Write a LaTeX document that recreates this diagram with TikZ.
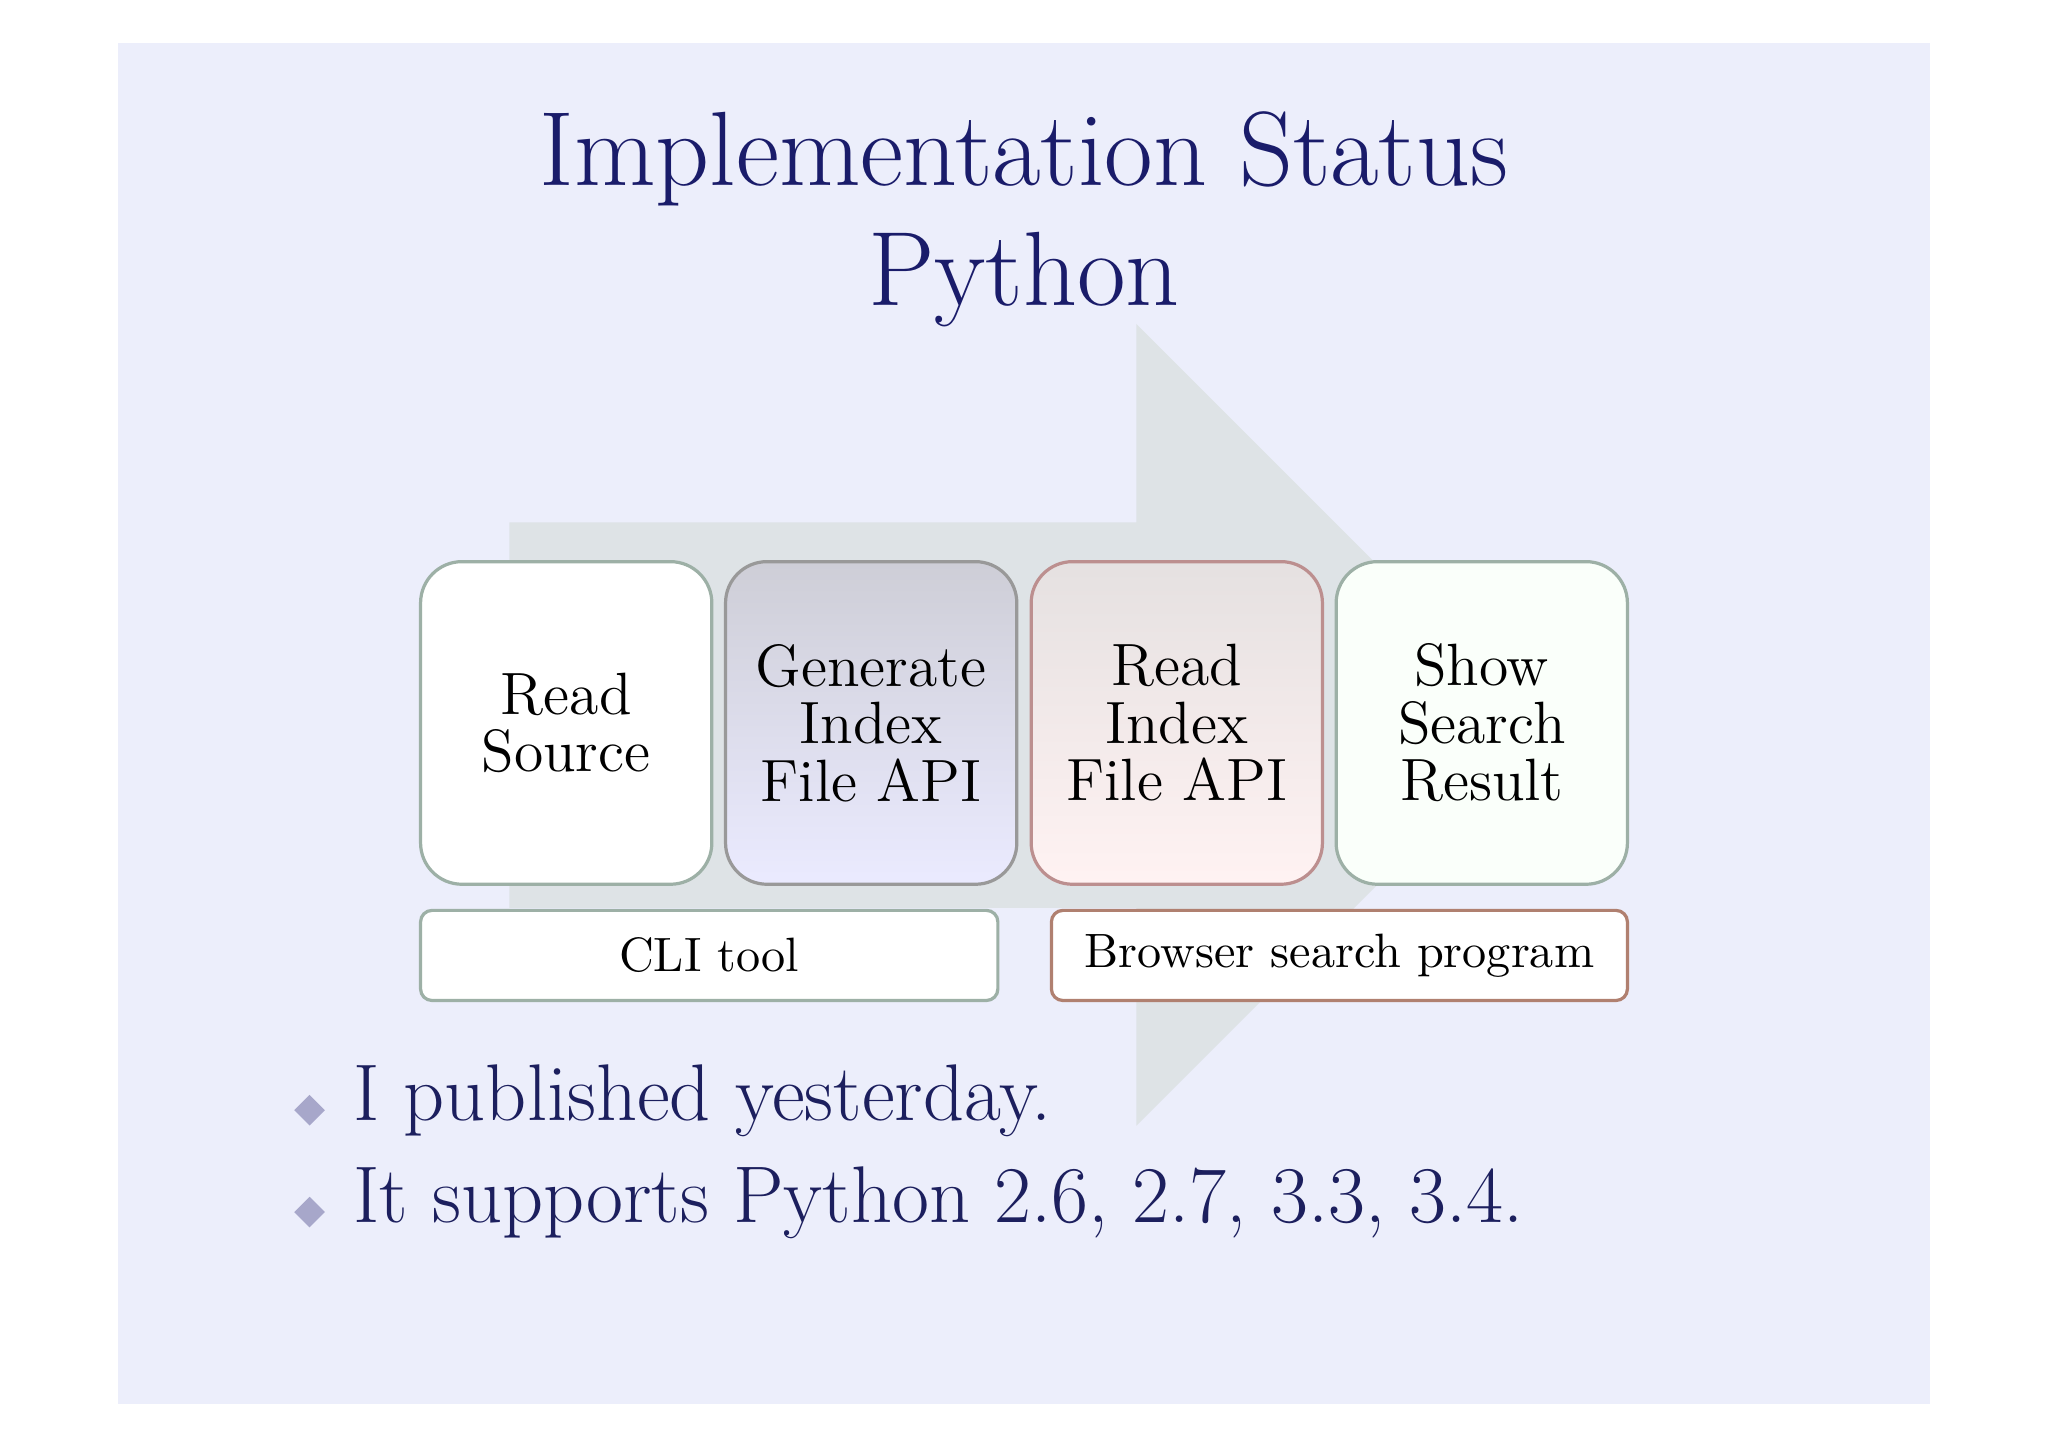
\documentclass[tikz,border=0pt]{standalone}
\usetikzlibrary{shapes.geometric}
\definecolor{slide}{HTML}{ECEEFB}
\definecolor{arr}{HTML}{DEE3E6}
\definecolor{navy}{HTML}{1C1F5E}
\definecolor{tnavy}{HTML}{1A1C6A}
\definecolor{gbord}{HTML}{9DB0A6}
\definecolor{rbord}{HTML}{B08070}
\tikzset{
 stepbox/.style={draw, rounded corners=9pt, line width=0.7pt, minimum width=223*0.01cm, minimum height=247*0.01cm, align=center, font=\fontsize{13}{12.5}\selectfont, text=black},
 lab/.style={draw, rounded corners=2.5pt, line width=0.7pt, fill=white, minimum height=69*0.01cm, font=\fontsize{10.5}{12}\selectfont},
 bul/.style={anchor=west, font=\fontsize{17.5}{20}\selectfont, text=navy},
 dia/.style={diamond, fill=gray!75!blue!55, inner sep=0pt, minimum size=0.24cm}
}
\begin{document}
\begin{tikzpicture}[x=0.01cm,y=-0.01cm]
\useasboundingbox (0,0) rectangle (1568,1108);
\fill[white] (0,0) rectangle (1568,1108);
\fill[slide] (90,33) rectangle (1478,1075);
\fill[arr] (390,400) -- (870,400) -- (870,248) -- (1177,555) -- (870,862) -- (870,695) -- (390,695) -- cycle;
\node[font=\fontsize{23}{26}\selectfont, text=tnavy, align=center] (title) at (784,168) {Implementation Status\\Python};
\node[stepbox, draw=gbord, fill=white] (b1) at (433.5,553.5) {Read\\Source};
\node[stepbox, draw=gray!80, top color=blue!10!gray!35!white, bottom color=blue!8!white] (b2) at (667,553.5) {Generate\\Index\\File API};
\node[stepbox, draw=gray!75!red!70, top color=red!8!gray!22!white, bottom color=red!5!white] (b3) at (901,553.5) {Read\\Index\\File API};
\node[stepbox, draw=gbord, fill=green!2!white] (b4) at (1134.5,553.5) {Show\\Search\\Result};
\node[lab, draw=gbord, minimum width=442*0.01cm] (l1) at (543,731.5) {CLI tool};
\node[lab, draw=rbord, minimum width=441*0.01cm] (l2) at (1025.5,731.5) {Browser search program};
\node[dia] (d1) at (237,850) {};
\node[bul] (t1) at (258,843) {I published yesterday.};
\node[dia] (d2) at (237,928) {};
\node[bul] (t2) at (258,921) {It supports Python 2.6, 2.7, 3.3, 3.4.};
\end{tikzpicture}
\end{document}
